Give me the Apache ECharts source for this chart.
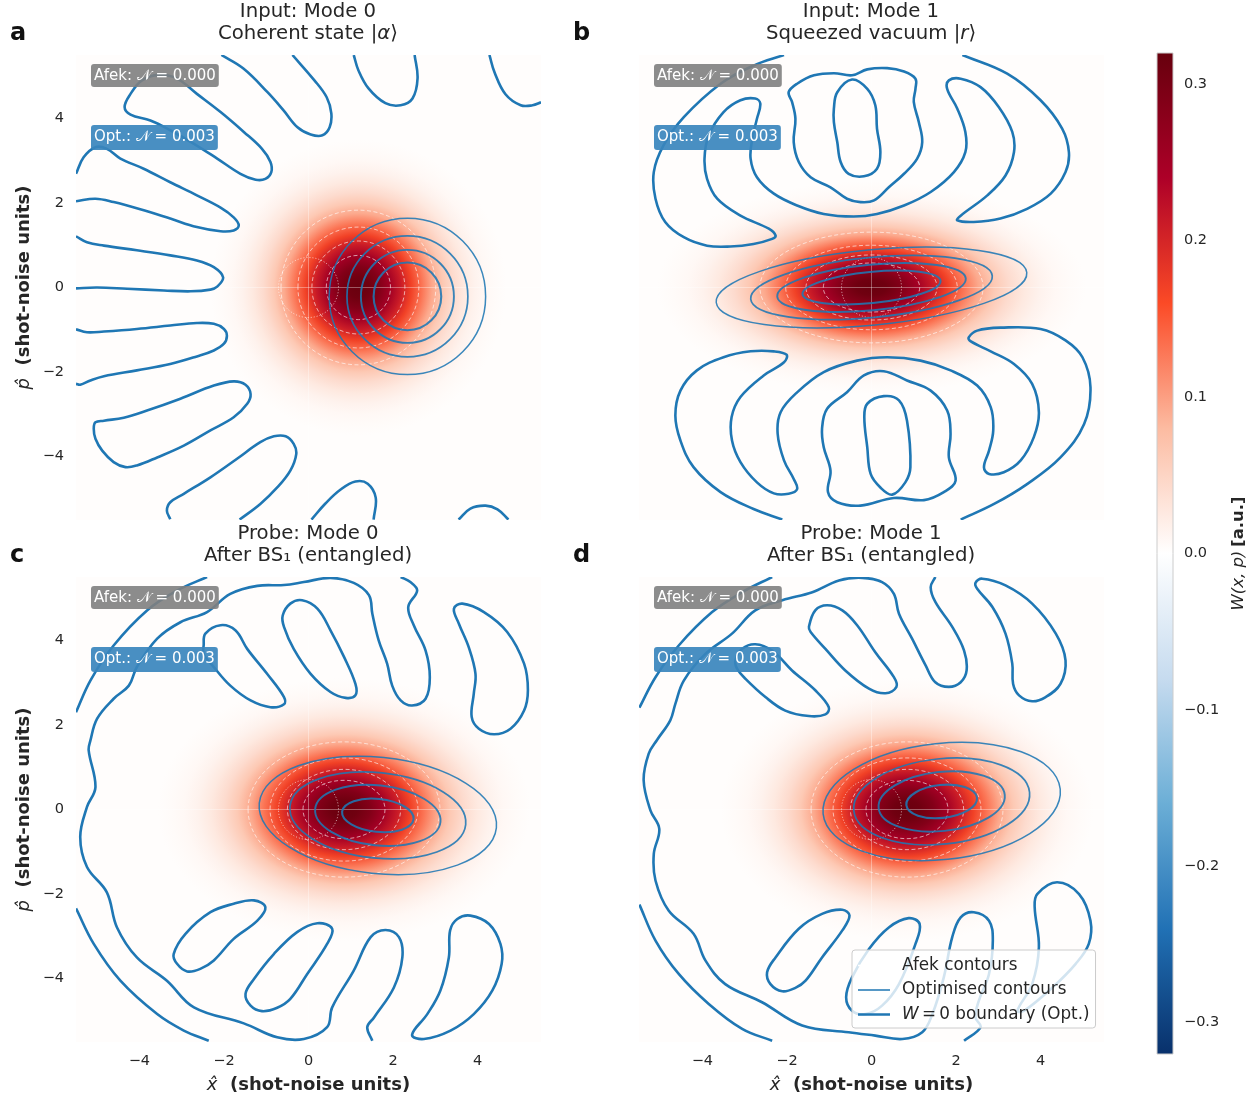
<!DOCTYPE html>
<html><head><meta charset="utf-8">
<style>html,body{margin:0;padding:0;background:#fff}#c{width:1260px;height:1099px}</style>
<script src="https://cdn.jsdelivr.net/npm/echarts@6/dist/echarts.min.js"></script>
</head><body><div id="c"></div>
<script>
const PANEL_LETTERS=['a','b','c','d'];
const PANEL_TITLES=['Input: Mode 0\nCoherent state |{i|α}⟩','Input: Mode 1\nSqueezed vacuum |{i|r}⟩','Probe: Mode 0\nAfter BS₁ (entangled)','Probe: Mode 1\nAfter BS₁ (entangled)'];
const BADGE_AFEK='Afek: 𝒩 = 0.000';
const BADGE_OPT='Opt.: 𝒩 = 0.003';
const TICKS=[-4,-2,0,2,4];
const CBAR_TICKS=[-0.3,-0.2,-0.1,0,0.1,0.2,0.3];
const CBAR_RANGE=[-0.32,0.32];
const COLOR_STOPS=[[-0.32,'#08306b'],[-0.24,'#2171b5'],[-0.16,'#6baed6'],[-0.08,'#c6dbef'],[0,'#ffffff'],[0.08,'#fcbba1'],[0.16,'#fb4a26'],[0.24,'#ad0028'],[0.32,'#67000d']];
// W read along a radius of each blob, in blob widths
const PROFILE_R=[0,0.25,0.5,0.75,1,1.25,1.5,1.75,2,2.25,2.5,2.75,3,3.25,3.5,3.75];
const PROFILE_W=[0.318,0.31,0.288,0.253,0.212,0.17,0.13,0.093,0.064,0.042,0.026,0.0155,0.0088,0.0047,0.0024,0];
// blobs: centre x, centre p, width x, width p, tilt
const BLOB_A=[[1.18,0,1,1,0]];
const BLOB_B=[[0,0,1.45,0.72,0]];
const BLOB_C=[[0.84,0,1.26,0.89,0]];
const BLOB_D=[[0.84,0,1.26,0.89,0]];
const VACUUM=[[0,0,0.71,0.71,0]];
// contours: centre x, centre p, semi x, semi p, tilt
const AFEK_A=[[1.18,0,1.83,1.83,0],[1.18,0,1.43,1.43,0],[1.18,0,1.1,1.1,0],[1.18,0,0.76,0.76,0]];
const AFEK_B=[[0,0,2.64,1.31,0],[0,0,2.03,1,0],[0,0,1.55,0.77,0],[0,0,1.14,0.58,0]];
const AFEK_C=[[0.84,0,2.27,1.6,0],[0.84,0,1.75,1.22,0],[0.84,0,1.34,0.95,0],[0.84,0,0.97,0.69,0]];
const AFEK_D=[[0.84,0,2.27,1.6,0],[0.84,0,1.75,1.22,0],[0.84,0,1.34,0.95,0],[0.84,0,0.97,0.69,0]];
const OPT_A=[[2.34,-0.21,1.85,1.85,0],[2.34,-0.21,1.43,1.43,0],[2.34,-0.21,1.1,1.1,0],[2.34,-0.21,0.8,0.8,0]];
const OPT_B=[[0,0,3.69,0.89,5.5],[0,0,2.87,0.71,5.5],[0,0,2.24,0.54,5.5],[0,0,1.64,0.37,5.5]];
const OPT_C=[[1.64,-0.14,2.82,1.375,-6],[1.64,-0.14,2.09,1.01,-6],[1.64,-0.14,1.49,0.71,-6],[1.64,-0.14,0.85,0.39,-6]];
const OPT_D=[[1.66,0.19,2.82,1.375,6],[1.66,0.19,2.09,1.01,6],[1.66,0.19,1.5,0.7,6],[1.66,0.19,0.84,0.39,6]];
// W = 0 boundaries, open ends at the frame, loops closed
const ZERO_A_OPEN=[
[[-5.5,2.69],[-5.32,3.08],[-5.04,3.32],[-4.77,3.28],[-4.45,3.05],[-3.9,2.81],[-3.27,2.49],[-2.64,2.18],[-2.08,1.89],[-1.77,1.66],[-1.65,1.47],[-1.77,1.35],[-2.08,1.33],[-2.64,1.43],[-3.27,1.63],[-3.98,1.85],[-4.61,2.02],[-5.04,2.1],[-5.5,2.04]],
[[-5.5,1.21],[-5.24,1.07],[-4.84,0.99],[-4.06,0.88],[-3.27,0.76],[-2.64,0.64],[-2.24,0.48],[-2.02,0.24],[-2.16,0.02],[-2.32,-0.05],[-2.79,-0.09],[-3.42,-0.07],[-4.29,-0.03],[-5,0],[-5.5,-0.02]],
[[-5.5,-0.99],[-5.24,-1.06],[-4.84,-1.04],[-4.06,-0.98],[-3.27,-0.9],[-2.64,-0.84],[-2.24,-0.86],[-2,-0.98],[-1.93,-1.14],[-2,-1.33],[-2.24,-1.49],[-2.64,-1.63],[-3.27,-1.81],[-4.06,-1.96],[-4.84,-2.1],[-5.16,-2.2],[-5.4,-2.3],[-5.5,-2.28]],
[[-3.27,-5.48],[-3.35,-5.28],[-3.27,-5.08],[-2.95,-4.88],[-2.32,-4.49],[-1.69,-4.05],[-1.14,-3.66],[-0.82,-3.52],[-0.54,-3.52],[-0.35,-3.7],[-0.29,-3.94],[-0.43,-4.33],[-0.74,-4.73],[-1.14,-5.12],[-1.63,-5.49]],
[[0.07,-5.49],[0.4,-5.11],[0.76,-4.78],[1.11,-4.59],[1.4,-4.64],[1.59,-4.97],[1.54,-5.49]],
[[3.55,-5.49],[3.83,-5.23],[4.19,-5.16],[4.47,-5.25],[4.73,-5.49]],
[[-2.06,5.5],[-1.54,5.18],[-0.97,4.62],[-0.59,4.19],[-0.26,3.79],[0.05,3.62],[0.33,3.6],[0.5,3.79],[0.54,4.12],[0.43,4.5],[0.14,4.9],[-0.38,5.5]],
[[1.07,5.5],[1.18,5.14],[1.42,4.71],[1.82,4.36],[2.18,4.31],[2.46,4.47],[2.58,4.95],[2.51,5.5]],
[[4.28,5.5],[4.4,5.09],[4.66,4.57],[5.02,4.31],[5.3,4.31],[5.5,4.38]]
];
const ZERO_A_LOOPS=[
[[-4.35,4.27],[-4.21,4.58],[-3.94,4.9],[-3.54,5.03],[-3.11,4.94],[-2.64,4.58],[-2.08,4.15],[-1.53,3.68],[-1.1,3.28],[-0.9,2.97],[-0.88,2.73],[-1.02,2.57],[-1.25,2.55],[-1.61,2.69],[-2.16,3.05],[-2.71,3.4],[-3.27,3.72],[-3.74,3.95],[-4.21,4.09]],
[[-5.08,-3.34],[-5.04,-3.19],[-4.84,-3.15],[-4.37,-3.08],[-3.82,-2.91],[-3.03,-2.63],[-2.24,-2.32],[-1.77,-2.22],[-1.49,-2.3],[-1.37,-2.52],[-1.45,-2.75],[-1.77,-3.07],[-2.32,-3.38],[-2.95,-3.74],[-3.58,-4.02],[-4.06,-4.21],[-4.33,-4.25],[-4.61,-4.13],[-4.88,-3.86],[-5.04,-3.58]]
];
const ZERO_B_OPEN=[
[[-2.07,5.5],[-2.79,5.25],[-3.57,4.82],[-4.44,4.03],[-4.92,3.36],[-5.15,2.73],[-5.11,2.1],[-4.88,1.55],[-4.44,1.19],[-3.89,0.99],[-3.34,0.97],[-2.79,1.03],[-2.35,1.15],[-2.27,1.23],[-2.43,1.39],[-3.1,1.7],[-3.65,2.1],[-3.89,2.57],[-3.95,3.05],[-3.85,3.6],[-3.5,4.15],[-3.1,4.43],[-2.75,4.47],[-2.63,4.35],[-2.71,3.99],[-2.82,3.52],[-2.86,3.05],[-2.71,2.61],[-2.31,2.22],[-1.76,1.94],[-1.13,1.74],[-0.42,1.68],[0.13,1.74],[0.77,1.94],[1.4,2.26],[1.95,2.73],[2.22,3.2],[2.22,3.68],[2.03,4.23],[1.79,4.7],[1.83,4.9],[2.11,4.94],[2.58,4.74],[3.01,4.27],[3.33,3.68],[3.37,3.2],[3.17,2.65],[2.74,2.18],[2.11,1.7],[2.03,1.59],[2.42,1.55],[3.05,1.63],[3.68,1.86],[4.24,2.22],[4.59,2.73],[4.67,3.2],[4.51,3.76],[4,4.43],[3.21,5.06],[2.15,5.5]],
[[-2.11,-5.49],[-2.79,-5.24],[-3.57,-4.84],[-4.21,-4.25],[-4.52,-3.62],[-4.64,-3.03],[-4.52,-2.44],[-4.13,-1.96],[-3.5,-1.65],[-2.86,-1.51],[-2.31,-1.51],[-2.01,-1.59],[-2.07,-1.77],[-2.55,-2.08],[-3.1,-2.59],[-3.31,-3.07],[-3.3,-3.62],[-3.1,-4.13],[-2.71,-4.61],[-2.31,-4.87],[-1.96,-4.88],[-1.76,-4.77],[-1.84,-4.53],[-2.07,-4.09],[-2.22,-3.46],[-2.15,-2.95],[-1.76,-2.48],[-1.13,-2],[-0.34,-1.73],[0.37,-1.65],[1.16,-1.73],[1.87,-1.96],[2.5,-2.32],[2.82,-2.83],[2.88,-3.38],[2.78,-3.86],[2.66,-4.25],[2.78,-4.41],[3.13,-4.37],[3.53,-4.09],[3.84,-3.54],[3.96,-2.95],[3.8,-2.28],[3.37,-1.81],[2.82,-1.51],[2.34,-1.27],[2.3,-1.18],[2.5,-1.02],[3.05,-0.95],[4,-0.98],[4.59,-1.25],[4.99,-1.65],[5.18,-2.36],[5.03,-3.23],[4.47,-4.02],[3.68,-4.65],[2.9,-5.12],[2.11,-5.49]]
];
const ZERO_B_LOOPS=[
[[-1.96,4.62],[-1.76,4.82],[-1.36,5.02],[-0.89,5.07],[-0.46,5.02],[-0.1,5.16],[0.37,5.19],[0.77,5.11],[1.04,4.94],[1.04,4.7],[1,4.39],[1.12,3.91],[1.2,3.44],[1.08,3.05],[0.77,2.69],[0.41,2.37],[0.06,2.06],[-0.26,2.02],[-0.58,2.1],[-0.97,2.37],[-1.44,2.61],[-1.72,2.97],[-1.84,3.44],[-1.8,3.99],[-1.88,4.39]],
[[-0.89,4.23],[-0.81,4.62],[-0.46,4.92],[-0.1,4.7],[0.09,4.31],[0.13,3.76],[0.21,3.2],[0.13,2.81],[-0.18,2.63],[-0.54,2.69],[-0.73,2.97],[-0.81,3.44],[-0.89,3.91]],
[[-1.17,-3.34],[-1.05,-2.87],[-0.58,-2.48],[-0.18,-2.08],[0.29,-1.98],[0.84,-2.2],[1.4,-2.44],[1.79,-2.91],[1.87,-3.46],[1.83,-4.02],[1.99,-4.57],[1.71,-4.84],[1.24,-5.03],[0.53,-4.98],[-0.26,-5.16],[-0.81,-5.08],[-1.03,-4.84],[-0.97,-4.33],[-1.13,-3.78]],
[[-0.17,-3.07],[-0.1,-2.75],[0.29,-2.57],[0.65,-2.67],[0.84,-3.15],[0.92,-4.25],[0.8,-4.61],[0.49,-4.9],[0.21,-4.73],[-0.02,-4.41],[-0.1,-3.78]]
];
const ZERO_C_OPEN=[
[[-5.5,2.3],[-5.16,3.05],[-4.61,3.88],[-3.82,4.71],[-3.11,5.18],[-2.4,5.5]],
[[2.18,5.5],[2.41,5.38],[2.57,5.18],[2.36,4.79],[2.49,4.36],[2.77,3.76],[2.87,3.13],[2.77,2.62],[2.45,2.46],[2.18,2.58],[1.98,2.93],[1.86,3.45],[1.66,4],[1.51,4.63],[1.43,5.07],[1.07,5.36],[0.52,5.48],[-0.11,5.38],[-0.58,5.31],[-1.21,5.29],[-1.85,5.1],[-2.4,4.67],[-3.03,4.43],[-3.58,4.04],[-4.06,3.37],[-4.25,2.93],[-4.61,2.62],[-5,2.15],[-5.16,1.63],[-5.2,1.4],[-5.04,0.53],[-5.24,0.06],[-5.4,-0.65],[-5.24,-1.36],[-4.77,-1.96],[-4.53,-2.79],[-4.06,-3.5],[-3.35,-4.05],[-2.71,-4.68],[-1.53,-5.06],[-0.74,-5.39],[-0.11,-5.43],[0.44,-5.15],[0.56,-4.68],[1.07,-3.81],[1.47,-3.02],[1.82,-2.85],[2.14,-3.02],[2.22,-3.5],[2.02,-4.21],[1.55,-4.92],[1.39,-5.15],[1.51,-5.47]],
[[-5.5,-2.34],[-5.08,-3.18],[-4.45,-4.05],[-3.58,-4.84],[-2.95,-5.23],[-2.36,-5.47]]
];
const ZERO_C_LOOPS=[
[[-2.48,3.88],[-2.44,4.16],[-2.08,4.36],[-1.73,4.24],[-1.45,3.8],[-0.98,3.21],[-0.58,2.66],[-0.58,2.49],[-0.9,2.42],[-1.37,2.58],[-1.85,2.93],[-2.24,3.37],[-2.48,3.68]],
[[-0.61,4.59],[-0.43,4.87],[-0.15,4.95],[0.21,4.75],[0.52,4.24],[0.84,3.61],[1.11,2.97],[1.11,2.7],[0.88,2.64],[0.52,2.78],[0.05,3.21],[-0.35,3.8],[-0.58,4.32]],
[[3.44,4.75],[3.64,4.87],[4.15,4.67],[4.7,4.2],[5.1,3.45],[5.19,2.82],[5.1,2.34],[4.78,1.91],[4.39,1.78],[4.03,1.91],[3.86,2.19],[3.91,2.74],[3.95,3.21],[3.79,3.84],[3.56,4.39]],
[[-3.19,-3.42],[-2.91,-2.94],[-2.32,-2.43],[-1.77,-2.23],[-1.29,-2.15],[-1.02,-2.31],[-1.21,-2.63],[-1.77,-3.06],[-2.24,-3.57],[-2.56,-3.77],[-2.87,-3.83],[-3.11,-3.65]],
[[-1.49,-4.36],[-1.29,-4.01],[-0.82,-3.42],[-0.27,-2.9],[0.21,-2.69],[0.56,-2.82],[0.44,-3.18],[-0.03,-3.89],[-0.43,-4.48],[-0.74,-4.69],[-1.1,-4.77],[-1.37,-4.64]],
[[2.45,-5.33],[2.81,-4.84],[3.12,-4.28],[3.32,-3.5],[3.35,-2.86],[3.52,-2.59],[3.83,-2.51],[4.27,-2.71],[4.54,-3.18],[4.57,-3.65],[4.35,-4.28],[3.91,-4.84],[3.36,-5.23],[2.73,-5.43]]
];
const ZERO_D_OPEN=[
[[-5.49,2.41],[-5.11,3.13],[-4.56,3.88],[-3.77,4.67],[-3.06,5.14],[-2.35,5.5]],
[[1.51,5.5],[1.4,5.26],[1.51,4.91],[1.91,4.32],[2.19,3.76],[2.25,3.29],[2.11,3.01],[1.83,2.9],[1.51,3.01],[1.28,3.41],[0.96,4.04],[0.65,4.63],[0.53,5.1],[0.25,5.38],[-0.22,5.48],[-0.77,5.42],[-1.4,5.14],[-2.11,4.95],[-2.75,4.71],[-3.3,4.16],[-3.93,3.68],[-4.44,3.05],[-4.64,2.5],[-4.76,2.11],[-5.07,1.65],[-5.27,1.32],[-5.39,0.69],[-5.23,-0.02],[-5.02,-0.46],[-5.15,-1.05],[-5.11,-1.68],[-4.8,-2.39],[-4.21,-2.94],[-3.93,-3.57],[-3.46,-4.13],[-2.59,-4.56],[-1.64,-5.11],[-0.54,-5.27],[0.09,-5.35],[0.73,-5.43],[1.2,-5.27],[1.44,-4.84],[1.71,-3.97],[1.91,-3.02],[2.11,-2.55],[2.42,-2.43],[2.78,-2.63],[2.87,-3.1],[2.78,-3.89],[2.54,-4.52],[2.46,-4.92],[2.58,-5.15],[2.19,-5.47]],
[[-5.49,-2.25],[-5.11,-3.1],[-4.56,-3.89],[-3.85,-4.6],[-3.06,-5.19],[-2.35,-5.47]]
];
const ZERO_D_LOOPS=[
[[-1.48,4.32],[-1.33,4.71],[-1.05,4.83],[-0.69,4.71],[-0.34,4.36],[0.09,3.72],[0.53,3.13],[0.59,2.9],[0.33,2.75],[-0.06,2.86],[-0.62,3.29],[-1.09,3.8],[-1.44,4.2]],
[[2.46,5.36],[2.62,5.46],[3.17,5.3],[3.8,4.87],[4.36,4.16],[4.59,3.53],[4.47,2.97],[4.12,2.66],[3.8,2.56],[3.49,2.7],[3.35,2.97],[3.33,3.45],[3.17,4.16],[2.86,4.79],[2.5,5.22]],
[[-3.22,3.53],[-3.06,3.8],[-2.75,3.91],[-2.35,3.76],[-1.88,3.29],[-1.33,2.82],[-1.01,2.42],[-1.09,2.25],[-1.48,2.21],[-2.04,2.34],[-2.51,2.66],[-2.98,3.09],[-3.18,3.33]],
[[-2.47,-3.85],[-2.27,-3.5],[-1.72,-2.82],[-1.17,-2.47],[-0.69,-2.37],[-0.52,-2.51],[-0.69,-2.86],[-1.17,-3.5],[-1.56,-4.05],[-1.8,-4.22],[-2.11,-4.3],[-2.39,-4.13]],
[[-0.6,-4.44],[-0.46,-3.97],[-0.06,-3.3],[0.41,-2.79],[0.88,-2.57],[1.14,-2.71],[1.04,-3.18],[0.65,-4.13],[0.25,-4.64],[-0.14,-4.84],[-0.46,-4.76]],
[[3.45,-4.76],[3.8,-4.13],[3.96,-3.26],[3.86,-2.31],[3.92,-2],[4.39,-1.72],[4.91,-2],[5.18,-2.63],[5.14,-3.18],[4.83,-3.65],[4.28,-4.21],[3.61,-4.76]]
];
const LEGEND_NAMES=['Afek contours','Optimised contours','W = 0 boundary (Opt.)'];
const CROSS_V=[[0,-5.5],[0,5.5]];
const CROSS_H=[[-5.5,0],[5.5,0]];

const FONT='DejaVu Sans',INK='#262626',BLUE='#1f77b4';
const LAYOUT=[[76,55],[639,55],[76,577],[639,577]];
const SIZE=465;
const OPT_WIDTHS=[1.5,1.7,1.9,2.1];
const BLOB_REACH=PROFILE_R[PROFILE_R.length-1];
const TENSION=0.38;

function colorOf(v){
  const s=COLOR_STOPS;
  for(let i=1;i<s.length;i++){
    if(v<=s[i][0]){
      const t=(v-s[i-1][0])/(s[i][0]-s[i-1][0]);
      const a=echarts.color.parse(s[i-1][1]),b=echarts.color.parse(s[i][1]);
      return 'rgb('+[0,1,2].map(k=>Math.round(a[k]+(b[k]-a[k])*t)).join(',')+')';
    }
  }
  return s[s.length-1][1];
}
const BLOB_GRADIENT={type:'radial',x:0.5,y:0.5,r:0.5,colorStops:PROFILE_R.map((r,i)=>({offset:r/BLOB_REACH,color:colorOf(PROFILE_W[i])}))};
BLOB_GRADIENT.colorStops[PROFILE_R.length-1].color='rgba(255,253,252,0)';

function blobRender(p,api){
  const c=api.coord([api.value(0),api.value(1)]),u=api.size([1,1]);
  return {type:'circle',x:c[0],y:c[1],scaleX:api.value(2),scaleY:api.value(3),
    shape:{cx:0,cy:0,r:BLOB_REACH*u[0]},style:{fill:BLOB_GRADIENT}};
}
function ellipseRender(styleFor){
  return function(p,api){
    const c=api.coord([api.value(0),api.value(1)]),u=api.size([1,1]);
    return {type:'ellipse',x:c[0],y:c[1],rotation:api.value(4)*Math.PI/180,
      shape:{cx:0,cy:0,rx:api.value(2)*u[0],ry:api.value(3)*u[1]},
      style:Object.assign({fill:'none'},styleFor(p.dataIndex))};
  };
}
// one smooth stroke through a whole W = 0 curve, placed through the axes
function curveRender(points,closed){
  return function(p,api){
    if(p.dataIndex!==0) return null;
    const q=points.map(d=>api.coord(d)),m=q.length;
    const at=i=>closed?q[(i+m)%m]:q[Math.max(0,Math.min(m-1,i))];
    const end=closed?m:m-1;
    let path='M'+q[0][0]+' '+q[0][1];
    const ctrl=(i,sign)=>{
      const a=at(i-1),b=at(i),c=at(i+1);
      const l0=Math.hypot(b[0]-a[0],b[1]-a[1]),l1=Math.hypot(c[0]-b[0],c[1]-b[1]),tot=(l0+l1)||1;
      const r=sign>0?l1/tot:l0/tot;
      return [b[0]+sign*(c[0]-a[0])*TENSION*r,b[1]+sign*(c[1]-a[1])*TENSION*r];
    };
    for(let i=0;i<end;i++){
      const c1=ctrl(i,1),c2=ctrl(i+1,-1),e=at(i+1);
      path+='C'+c1[0]+' '+c1[1]+' '+c2[0]+' '+c2[1]+' '+e[0]+' '+e[1];
    }
    if(closed) path+='Z';
    return {type:'path',shape:{pathData:path},style:{fill:'none',stroke:BLUE,lineWidth:2.6,lineJoin:'round'}};
  };
}
const afekStyle=()=>({stroke:'rgba(255,255,255,0.6)',lineWidth:1,lineDash:[4,2.5]});
const vacStyle=()=>({stroke:'rgba(255,255,255,0.65)',lineWidth:1,lineDash:[1,2]});
const optStyle=i=>({stroke:'rgba(31,119,180,0.88)',lineWidth:OPT_WIDTHS[i]});

const grid=[],xAxis=[],yAxis=[],series=[],title=[];
const panels=[
 {blob:BLOB_A,afek:AFEK_A,opt:OPT_A,open:ZERO_A_OPEN,loops:ZERO_A_LOOPS},
 {blob:BLOB_B,afek:AFEK_B,opt:OPT_B,open:ZERO_B_OPEN,loops:ZERO_B_LOOPS},
 {blob:BLOB_C,afek:AFEK_C,opt:OPT_C,open:ZERO_C_OPEN,loops:ZERO_C_LOOPS},
 {blob:BLOB_D,afek:AFEK_D,opt:OPT_D,open:ZERO_D_OPEN,loops:ZERO_D_LOOPS}
];
const minus=v=>String(v).replace('-','\u2212');
const nameRich={i:{fontFamily:FONT,fontStyle:'italic',fontSize:18,color:INK},b:{fontFamily:FONT,fontWeight:'bold',fontSize:18,color:INK}};
panels.forEach((pn,i)=>{
  const [l,t]=LAYOUT[i];
  grid.push({left:l,top:t,width:SIZE,height:SIZE,show:true,backgroundColor:'#fffdfc',borderWidth:0});
  const bottom=i>=2,left=i%2===0;
  xAxis.push({type:'value',gridIndex:i,min:-5.5,max:5.5,splitLine:{show:false},axisLine:{show:false},axisTick:{show:false},
    axisLabel:{show:bottom,customValues:TICKS,formatter:minus,color:INK,fontFamily:FONT,fontSize:14.5,margin:12},
    name:bottom?'{i|x\u0302}{b|  (shot-noise units)}':'',nameLocation:'middle',nameGap:34,
    nameTextStyle:{rich:nameRich}});
  yAxis.push({type:'value',gridIndex:i,min:-5.5,max:5.5,splitLine:{show:false},axisLine:{show:false},axisTick:{show:false},
    axisLabel:{show:left,customValues:TICKS,formatter:minus,color:INK,fontFamily:FONT,fontSize:14.5,margin:12,padding:[3,0,0,0]},
    name:left?'{i|p\u0302}{b|  (shot-noise units)}':'',nameLocation:'middle',nameGap:43,
    nameTextStyle:{rich:nameRich}});
  const base={coordinateSystem:'cartesian2d',xAxisIndex:i,yAxisIndex:i,silent:true,clip:true};
  series.push(Object.assign({type:'custom',name:'W',z:1,renderItem:blobRender,data:pn.blob,encode:{x:0,y:1}},base));
  series.push(Object.assign({type:'line',name:'axis0',z:2,data:CROSS_V,symbol:'none',lineStyle:{color:'rgba(255,255,255,0.35)',width:1}},base));
  series.push(Object.assign({type:'line',name:'axis0',z:2,data:CROSS_H,symbol:'none',lineStyle:{color:'rgba(255,255,255,0.35)',width:1}},base));
  series.push(Object.assign({type:'custom',name:'vacuum',z:3,renderItem:ellipseRender(vacStyle),data:VACUUM,encode:{x:0,y:1}},base));
  series.push(Object.assign({type:'custom',name:LEGEND_NAMES[0],z:3,renderItem:ellipseRender(afekStyle),data:pn.afek,encode:{x:0,y:1},itemStyle:{color:'#ffffff'}},base));
  series.push(Object.assign({type:'custom',name:LEGEND_NAMES[1],z:4,renderItem:ellipseRender(optStyle),data:pn.opt,encode:{x:0,y:1},itemStyle:{color:BLUE}},base));
  const addCurve=(d,closed)=>series.push(Object.assign({type:'custom',name:LEGEND_NAMES[2],z:4,data:d,encode:{x:0,y:1},renderItem:curveRender(d,closed),itemStyle:{color:BLUE}},base));
  pn.open.forEach(d=>addCurve(d,false));
  pn.loops.forEach(d=>addCurve(d,true));
  title.push({text:PANEL_TITLES[i],left:l+232,top:t-54,textAlign:'center',padding:0,
    textStyle:{fontFamily:FONT,fontWeight:'normal',fontSize:19.7,lineHeight:22,color:INK,
      rich:{i:{fontFamily:FONT,fontStyle:'italic',fontSize:19.7,lineHeight:22,color:INK}}}});
  title.push({text:PANEL_LETTERS[i],left:l-66,top:t-33,textStyle:{fontFamily:FONT,fontWeight:'bold',fontSize:24,color:'#111'},padding:0});
  title.push({text:BADGE_AFEK,left:l+15,top:t+9,backgroundColor:'rgba(128,128,128,0.9)',borderRadius:3,padding:[5,3,3,3],textStyle:{fontFamily:FONT,fontWeight:'normal',fontSize:15,color:'#fff'}});
  title.push({text:BADGE_OPT,left:l+15,top:t+70,backgroundColor:'rgba(58,133,189,0.92)',borderRadius:3,padding:[5,3,5,3],textStyle:{fontFamily:FONT,fontWeight:'normal',fontSize:15,color:'#fff'}});
});
grid.push({left:1157,top:53,width:16,height:1001,show:false});
xAxis.push({type:'value',gridIndex:4,min:0,max:1,show:false});
yAxis.push({type:'value',gridIndex:4,min:CBAR_RANGE[0],max:CBAR_RANGE[1],position:'right',splitLine:{show:false},
  axisLine:{show:false},axisTick:{show:true,length:5,customValues:CBAR_TICKS,lineStyle:{color:INK,width:1}},
  axisLabel:{customValues:CBAR_TICKS,formatter:v=>minus(v.toFixed(1)),color:INK,fontFamily:FONT,fontSize:14.5,margin:11,padding:[5,0,0,0]},
  name:'{i|W(x, p)} {b|[a.u.]}',nameLocation:'middle',nameRotate:90,nameGap:57,
  nameTextStyle:{rich:{i:{fontFamily:FONT,fontStyle:'italic',fontSize:16.5,color:INK},b:{fontFamily:FONT,fontWeight:'bold',fontSize:16.5,color:INK}}}});
const n=COLOR_STOPS.length;
series.push({type:'custom',name:'colorbar',coordinateSystem:'cartesian2d',xAxisIndex:4,yAxisIndex:4,silent:true,z:1,
  data:[[0,CBAR_RANGE[1]]],encode:{x:0,y:1},
  renderItem:(p,api)=>{
    const a=api.coord([0,CBAR_RANGE[1]]),b=api.coord([1,CBAR_RANGE[0]]);
    return {type:'rect',shape:{x:a[0],y:a[1],width:b[0]-a[0],height:b[1]-a[1]},
      style:{stroke:'#cccccc',lineWidth:1,fill:{type:'linear',x:0,y:0,x2:0,y2:1,
        colorStops:COLOR_STOPS.map((s,i)=>({offset:(n-1-i)/(n-1),color:s[1]})).reverse()}}};
  }});
const ICON_THIN='path://M0 0H0.01V0.01H0Z M0 4.3H32V5.7H0Z M0 9.99H0.01V10H0Z';
const ICON_BOLD='path://M0 0H0.01V0.01H0Z M0 3.8H32V6.2H0Z M0 9.99H0.01V10H0Z';
const chart=echarts.init(document.getElementById('c'),null,{renderer:'canvas',width:1260,height:1099});
chart.setOption({
  animation:false,backgroundColor:'#fff',textStyle:{fontFamily:FONT},tooltip:{show:false},
  title,grid,xAxis,yAxis,series,
  legend:{orient:'vertical',left:852,top:950,z:20,selectedMode:false,itemWidth:32,itemHeight:10,itemGap:7.5,
    padding:[7,6,5,6],backgroundColor:'rgba(255,255,255,0.8)',borderColor:'#cccccc',borderWidth:1,borderRadius:3,
    data:[{name:LEGEND_NAMES[0],icon:ICON_THIN,itemStyle:{color:'#ffffff'}},
          {name:LEGEND_NAMES[1],icon:ICON_THIN,itemStyle:{color:BLUE}},
          {name:LEGEND_NAMES[2],icon:ICON_BOLD,itemStyle:{color:BLUE}}],
    formatter:nm=>nm===LEGEND_NAMES[2]?'{i|W}{t|\u2009=\u20090 boundary (Opt.)}':'{t|'+nm+'}',
    textStyle:{fontFamily:FONT,fontSize:16.8,color:INK,padding:[0,0,0,7],
      rich:{t:{fontFamily:FONT,fontSize:16.8,color:INK},i:{fontFamily:FONT,fontStyle:'italic',fontSize:16.8,color:INK}}}}
});
</script></body></html>
